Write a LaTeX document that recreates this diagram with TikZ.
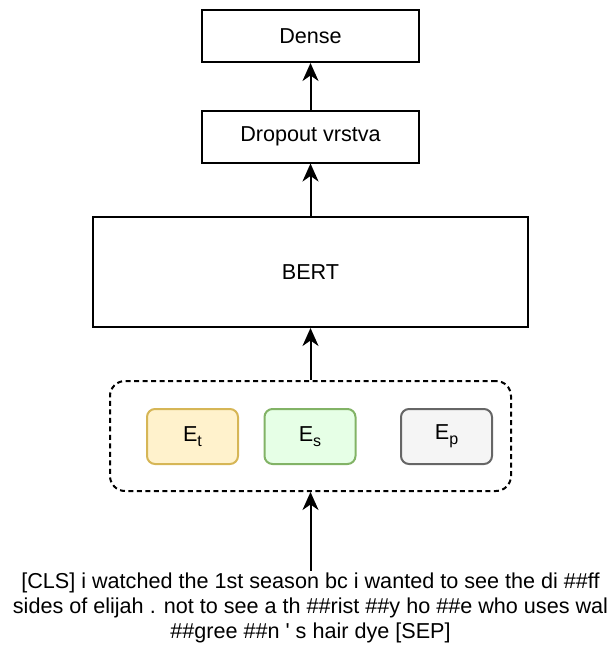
\documentclass[tikz,border=0pt]{standalone}
\usepackage{fontspec}
\setsansfont{Liberation Sans}
\usepackage{tikz}
\usetikzlibrary{arrows,arrows.meta,positioning,shapes.geometric}

\newcommand{\embsub}[1]{\raisebox{-0.45ex}{\fontsize{16}{16}\selectfont #1}}

\begin{document}
\begin{tikzpicture}[
    x=1pt, y=-1pt,
    >={Stealth[length=18pt,width=16pt,inset=5.5pt]},
    font=\sffamily\fontsize{21.6}{25}\selectfont,
    layer/.style={
		rectangle,
		draw=black,
		line width=2pt,
		text centered,
		minimum width=217pt,
		minimum height=52pt,
		fill=white
	},
	emb/.style={
		rectangle,
		rounded corners=8pt,
		line width=2pt,
		minimum width=91pt,
		minimum height=55pt
	},
	flow/.style={
		->,
		line width=2pt
	}
  ]
    \useasboundingbox (0,0) rectangle (611,651);

    % We start by placing the layers
    \node [layer] (dense) at (310.5,36) {Dense};
    \node [layer] (dropout) at (310.5,136.5) {Dropout vrstva};
    \node [layer, minimum width=435pt, minimum height=110pt] (bert) at (310.5,272) {BERT};

    % embeddings in a dashed group
    \node [rectangle, draw=black, dash pattern=on 5pt off 3.5pt, rounded corners=15pt, line width=2pt,
           minimum width=401pt, minimum height=110pt] (group) at (310.5,436) {};
    \node [emb, fill={rgb,255:red,255;green,242;blue,204}, draw={rgb,255:red,214;green,182;blue,86}] (et) at (192.5,436.5) {E\embsub{t}};
    \node [emb, fill={rgb,255:red,230;green,255;blue,230}, draw={rgb,255:red,130;green,179;blue,102}] (es) at (310,436.5) {E\embsub{s}};
    \node [emb, fill={rgb,255:red,245;green,245;blue,245}, draw={rgb,255:red,102;green,102;blue,102}] (ep) at (446.5,436.5) {E\embsub{p}};

    % input tokens
    \node [align=center, inner sep=2pt] (tokens) at (310.5,608)
    {[CLS] i watched the 1st season bc i wanted to see the di \#\#ff\\
     sides of elijah . not to see a th \#\#rist \#\#y ho \#\#e who uses wal\\
     \#\#gree \#\#n \textquotesingle\ s hair dye [SEP]};

    \draw [flow] (tokens) -- (group);
    \draw [flow] (group) -- (bert);
    \draw [flow] (bert) -- (dropout);
    \draw [flow] (dropout) -- (dense);
\end{tikzpicture}
\end{document}
